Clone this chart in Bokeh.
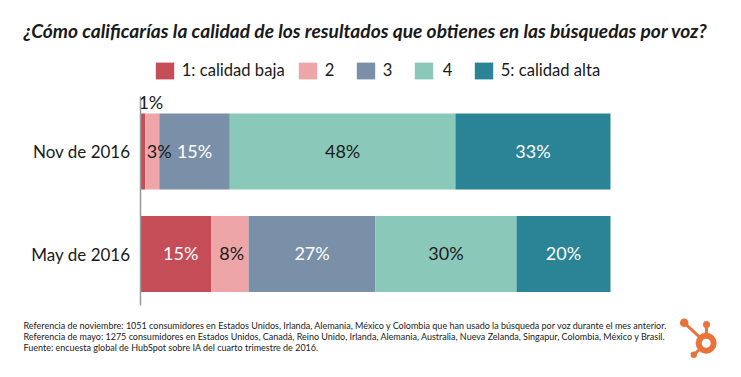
from bokeh.embed import file_html
from bokeh.resources import INLINE
from bokeh.plotting import figure
from bokeh.models import (Range1d, FixedTicker, Label, Legend, LegendItem, ColumnDataSource,
                          Segment, LinearAxis)
from bokeh.core.properties import value

categories = ["May de 2016", "Nov de 2016"]
series_names = ["1: calidad baja", "2", "3", "4", "5: calidad alta"]
calidad_1 = [15, 1]
calidad_2 = [8, 3]
calidad_3 = [27, 15]
calidad_4 = [30, 48]
calidad_5 = [20, 33]
colors = ["#C44D58", "#EDA5A8", "#7A90A8", "#8AC9BA", "#2A8496"]
label_colors = [["#FFFFFF", "#1A1A1A"], ["#1A1A1A", "#1A1A1A"], ["#FFFFFF", "#FFFFFF"],
                ["#1A1A1A", "#1A1A1A"], ["#FFFFFF", "#FFFFFF"]]
title_text = "¿Cómo calificarías la calidad de los resultados que obtienes en las búsquedas por voz?"
footer_lines = [
    "Referencia de noviembre: 1051 consumidores en Estados Unidos, Irlanda, Alemania, México y Colombia que han usado la búsqueda por voz durante el mes anterior.",
    "Referencia de mayo: 1275 consumidores en Estados Unidos, Canadá, Reino Unido, Irlanda, Alemania, Australia, Nueva Zelanda, Singapur, Colombia, México y Brasil.",
    "Fuente: encuesta global de HubSpot sobre IA del cuarto trimestre de 2016.",
]

FONT = "Lato"
DARK = "#1A1A1A"
# pixel geometry of the picture: the frame fills the whole figure
FL, FR = 140, 610
FT, FB = 96, 305
W, H = 725, 361
Y_TOP_PX, Y_BOT_PX = 151.0, 253.5   # centres of the two bars
per_cat = Y_BOT_PX - Y_TOP_PX

def X(px):
    return (px - FL) * 100 / (FR - FL)

def Y(py):
    return 1 - (py - Y_TOP_PX) / per_cat

p = figure(width=W, height=H, output_backend="svg", toolbar_location=None,
           x_range=Range1d(X(0), X(W)), y_range=Range1d(Y(H), Y(0)),
           x_axis_location=None, y_axis_location=None,
           min_border=0, background_fill_color="white", border_fill_color="white",
           outline_line_color=None)
p.grid.visible = False

ax = LinearAxis(fixed_location=0, bounds=(Y(FB), Y(FT)))
ax.ticker = FixedTicker(ticks=[0, 1])
ax.major_label_overrides = {0: categories[0], 1: categories[1]}
ax.major_tick_line_color = None
ax.minor_tick_line_color = None
ax.axis_line_color = "#9A9A9A"
ax.axis_line_width = 1.5
ax.major_label_text_font = FONT
ax.major_label_text_font_size = "17px"
ax.major_label_text_color = DARK
ax.major_label_standoff = 4
p.add_layout(ax, "left")

rows = [calidad_1, calidad_2, calidad_3, calidad_4, calidad_5]
left = [0, 0]
items = []
text_src = []
# label nudges as in the original: (series, row) -> (dx, dy) in pixels
offsets = {(0, 1): (8, -50), (1, 1): (7, -1), (0, 0): (5, -1), (1, 0): (2, -1)}
for i, vals in enumerate(rows):
    right = [a + b for a, b in zip(left, vals)]
    r = p.hbar(y=[0, 1], left=left, right=right, height=76 / per_cat,
               fill_color=colors[i], line_color=None)
    items.append(LegendItem(label=series_names[i], renderers=[r]))
    text_src.append(ColumnDataSource(dict(
        y=[0, 1],
        mid=[(a + b) / 2 for a, b in zip(left, right)],
        txt=[f"{v}%" for v in vals],
        col=label_colors[i],
        xo=[offsets.get((i, j), (0, -1))[0] for j in (0, 1)],
        yo=[offsets.get((i, j), (0, -1))[1] for j in (0, 1)],
    )))
    left = right
for src in text_src:
    p.text(x="mid", y="y", text="txt", source=src, text_color="col", text_align="center",
           text_baseline="middle", text_font=value(FONT), text_font_size="18px",
           x_offset="xo", y_offset="yo")

# one legend per entry: the original's gaps between entries are not uniform
legend_left_px = [155, 298, 356, 414, 474]
legend_standoff = [6, 6, 6, 8, 6]
for item, lx, so in zip(items, legend_left_px, legend_standoff):
    legend = Legend(items=[item], orientation="horizontal", location=(lx - 2.3, H - 80.6),
                    glyph_width=23, glyph_height=21, label_standoff=so,
                    margin=0, padding=0, border_line_color=None, background_fill_alpha=0,
                    label_text_font=FONT, label_text_font_size="16.6px", label_text_color=DARK)
    p.add_layout(legend, "center")

p.add_layout(Label(x=X(23), y=Y(29.5), text=title_text, text_font=FONT, text_font_style="bold italic",
                   text_font_size="19.2px", text_color=DARK, text_baseline="middle"))
for t, py in zip(footer_lines, [325, 336, 347]):
    p.add_layout(Label(x=X(23), y=Y(py), text=t, text_font=FONT, text_font_size="9px",
                       text_color=DARK, text_baseline="middle"))

# HubSpot logo
ORANGE = "#E8743B"
cx, cy = 705.7, 342.7
for (dx, dy, rad) in [(683.7, 322.3, 4.3), (706, 324, 3.5), (693.3, 354.3, 3.2)]:
    p.add_glyph(ColumnDataSource(dict(x0=[X(cx)], y0=[Y(cy)], x1=[X(dx)], y1=[Y(dy)])),
                Segment(x0="x0", y0="y0", x1="x1", y1="y1", line_color=ORANGE, line_width=3))
    p.scatter(x=[X(dx)], y=[Y(dy)], size=2 * rad, color=ORANGE, line_color=None)
p.scatter(x=[X(cx)], y=[Y(cy)], size=15, fill_color="white", line_color=ORANGE, line_width=6)

open("out.html", "w").write(file_html(p, INLINE))
